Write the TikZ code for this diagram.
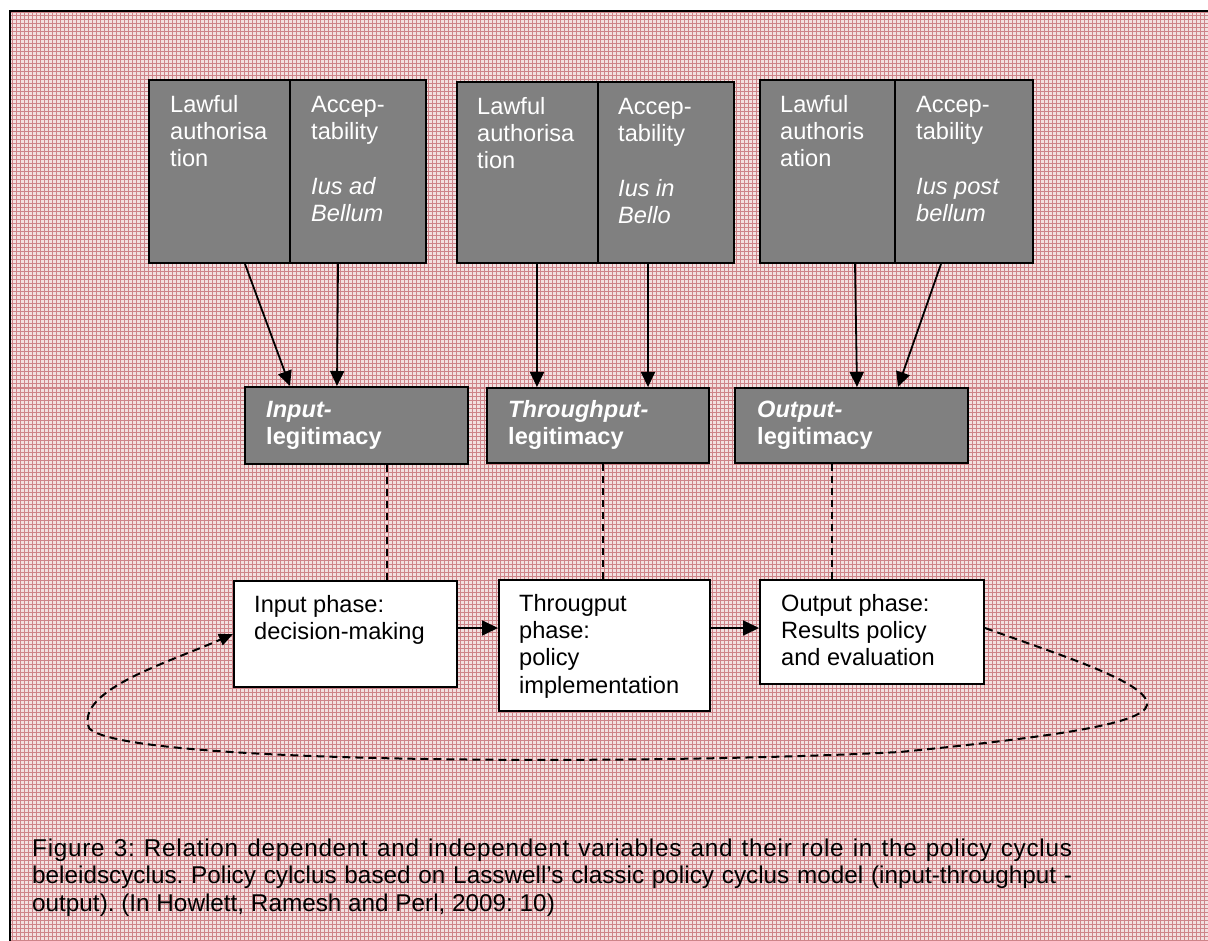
\documentclass[tikz,border=0pt]{standalone}
\usepackage{fontspec}
\setmainfont{Liberation Sans}
\usetikzlibrary{arrows.meta}

\definecolor{bgpink}{RGB}{242,224,224}
\definecolor{gridred}{RGB}{206,132,137}
\definecolor{boxgrey}{RGB}{128,128,128}

\tikzset{
  txt/.style={font=\fontsize{23.6}{27.3}\selectfont, inner sep=0pt, anchor=north west, align=left},
  greybox/.style={draw=black, line width=2pt, fill=boxgrey, inner sep=0pt},
  whitebox/.style={draw=black, line width=2pt, fill=white, inner sep=0pt},
  link/.style={line width=1.8pt, -{Triangle[length=15pt,width=14pt]}},
  dashlink/.style={line width=2pt, dash pattern=on 8pt off 5pt},
}

\begin{document}
\begin{tikzpicture}[x=1pt, y=-1pt]
\useasboundingbox (0,0) rectangle (1208,941);

% patterned page background and frame
\fill[bgpink] (10,12) rectangle (1208,941);
\draw[gridred, line width=1pt, step=4pt] (10,12) grid (1208,941);
\draw[line width=2pt] (9.5,941) -- (9.5,11) -- (1208,11);

% top pairs of boxes
\node[greybox, minimum width=141pt, minimum height=183pt] (la1) at (219.5,171.5) {};
\node[greybox, minimum width=136pt, minimum height=183pt] (ac1) at (358,171.5) {};
\node[greybox, minimum width=141pt, minimum height=181pt] (la2) at (527.5,172.5) {};
\node[greybox, minimum width=136pt, minimum height=181pt] (ac2) at (666,172.5) {};
\node[greybox, minimum width=135pt, minimum height=183pt] (la3) at (827.5,171.5) {};
\node[greybox, minimum width=138pt, minimum height=183pt] (ac3) at (964,171.5) {};

\node[txt, white] (tla1) at ([xshift=22pt,yshift=-13.9pt]la1.north west) {\strut Lawful\\authorisa\\tion};
\node[txt, white] (tac1) at ([xshift=22pt,yshift=-13.9pt]ac1.north west) {\strut Accep-\\tability\\[27.3pt]\itshape Ius ad\\\itshape Bellum};
\node[txt, white] (tla2) at ([xshift=21pt,yshift=-13.9pt]la2.north west) {\strut Lawful\\authorisa\\tion};
\node[txt, white] (tac2) at ([xshift=21pt,yshift=-13.9pt]ac2.north west) {\strut Accep-\\tability\\[27.3pt]\itshape Ius in\\\itshape Bello};
\node[txt, white] (tla3) at ([xshift=21pt,yshift=-13.9pt]la3.north west) {\strut Lawful\\authoris\\ation};
\node[txt, white] (tac3) at ([xshift=22pt,yshift=-13.9pt]ac3.north west) {\strut Accep-\\tability\\[27.3pt]\itshape Ius post\\\itshape bellum};

% legitimacy boxes
\node[greybox, minimum width=223pt, minimum height=77pt] (im1) at (356.5,425.5) {};
\node[greybox, minimum width=222pt, minimum height=75pt] (im2) at (598,425.5) {};
\node[greybox, minimum width=233pt, minimum height=75pt] (im3) at (851.5,425.5) {};

\node[txt, white] (tim1) at ([xshift=22pt,yshift=-12pt]im1.north west) {\strut\bfseries\itshape Input-\\\bfseries legitimacy};
\node[txt, white] (tim2) at ([xshift=22pt,yshift=-11pt]im2.north west) {\strut\bfseries\itshape Throughput-\\\bfseries legitimacy};
\node[txt, white] (tim3) at ([xshift=23pt,yshift=-11pt]im3.north west) {\strut\bfseries\itshape Output-\\\bfseries legitimacy};

% policy phase boxes
\node[whitebox, minimum width=223pt, minimum height=106pt] (ob1) at (345.5,634) {};
\node[whitebox, minimum width=211pt, minimum height=131pt] (ob2) at (604.5,645.5) {};
\node[whitebox, minimum width=224pt, minimum height=104pt] (ob3) at (872,632) {};

\node[txt, black] (tob1) at ([xshift=21pt,yshift=-12.9pt]ob1.north west) {\strut Input phase:\\decision-making};
\node[txt, black] (tob2) at ([xshift=21pt,yshift=-12.9pt]ob2.north west) {\strut Througput\\phase:\\policy\\implementation};
\node[txt, black] (tob3) at ([xshift=22pt,yshift=-12.9pt]ob3.north west) {\strut Output phase:\\Results policy\\and evaluation};

% criteria feeding the legitimacy boxes
\draw[link] ([xshift=25.5pt]la1.south) -- ([xshift=-66.5pt]im1.north);
\draw[link] ([xshift=-20pt]ac1.south) -- ([xshift=-19.5pt]im1.north);
\draw[link] ([xshift=9.5pt]la2.south) -- ([xshift=-61pt]im2.north);
\draw[link] ([xshift=-18pt]ac2.south) -- ([xshift=50pt]im2.north);
\draw[link] ([xshift=27.5pt]la3.south) -- ([xshift=5.5pt]im3.north);
\draw[link] ([xshift=-23pt]ac3.south) -- ([xshift=46.5pt]im3.north);

% legitimacy to phase
\draw[dashlink, dash pattern=on 7pt off 5pt] ([xshift=30.5pt]im1.south) -- ([xshift=30.5pt]im1.south |- ob1.north);
\draw[dashlink, dash pattern=on 7pt off 5pt] ([xshift=5pt]im2.south) -- ([xshift=5pt]im2.south |- ob2.north);
\draw[dashlink, dash pattern=on 7pt off 5pt] ([xshift=-19.5pt]im3.south) -- ([xshift=-19.5pt]im3.south |- ob3.north);

% phase sequence
\draw[link, -{Triangle[length=16pt,width=15pt]}] ([yshift=6pt]ob1.east) -- ([yshift=6pt]ob1.east -| ob2.west);
\draw[link, -{Triangle[length=16pt,width=15pt]}] ([yshift=17.5pt]ob2.east) -- ([yshift=17.5pt]ob2.east -| ob3.west);

% feedback loop
\coordinate (loopR) at (1147,705);
\coordinate (loopB) at (900,752);
\coordinate (loopL) at (89,728);
\draw[dashlink, -{Triangle[length=14pt,width=12pt]}] ([yshift=4pt]ob3.east)
  .. controls (1060,655) and (1150,683) .. (loopR)
  .. controls (1144,725) and (1040,738) .. (loopB)
  .. controls (650,765) and (120,765) .. (loopL)
  .. controls (75,690) and (170,662) .. (ob1.west);

% caption
\node[txt, black, font=\fontsize{24.3}{27.4}\selectfont\frenchspacing, text width=1040pt, align=justify] (cap) at (32,836.9) {\strut{\addfontfeature{LetterSpace=3.0}Figure 3: Relation dependent and independent variables and their role in the policy cyclus}\linebreak beleidscyclus. Policy cylclus based on Lasswell’s classic policy cyclus model (input-throughput -\linebreak output). (In Howlett, Ramesh and Perl, 2009: 10)};
\end{tikzpicture}
\end{document}
